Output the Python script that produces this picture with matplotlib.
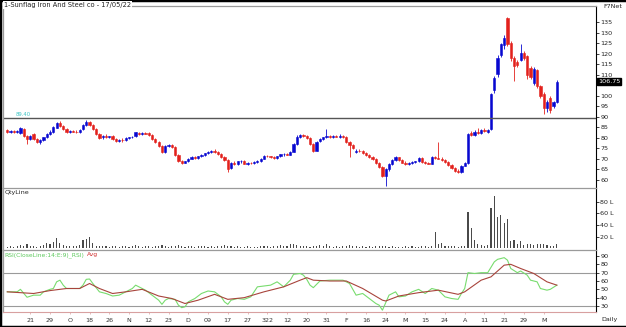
import matplotlib
matplotlib.use("Agg")
import matplotlib.pyplot as plt
from matplotlib.lines import Line2D
import numpy as np

title = "1-Sunflag Iron And Steel co - 17/05/22"

opens = [83.5, 83.0, 83.3, 82.8, 82.5, 84.2, 81.0, 79.5, 82.0, 79.5,
         78.0, 78.8, 80.2, 82.0, 83.0, 84.8, 87.0, 85.5, 84.0, 83.0,
         83.2, 83.0, 82.8, 84.0, 86.0, 87.3, 86.0, 84.0, 82.0, 80.2,
         81.0, 80.5, 80.8, 79.5, 78.6, 79.2, 78.8, 80.0, 80.2, 80.8,
         82.5, 82.0, 82.2, 82.3, 81.3, 79.5, 78.0, 76.0, 73.5, 76.0,
         76.5, 75.5, 72.0, 69.0, 68.3, 68.8, 70.2, 71.0, 70.5, 71.2,
         72.0, 72.7, 73.5, 74.0, 73.3, 72.3, 71.0, 69.5, 65.5, 68.0,
         67.5, 68.8, 69.2, 67.8, 68.2, 67.9, 68.6, 68.8, 70.2, 71.5,
         71.2, 70.8, 70.4, 71.3, 72.2, 72.5, 72.0, 73.5, 77.0, 80.5,
         81.2, 81.0, 80.0, 77.0, 74.0, 78.5, 79.5, 80.2, 80.8, 80.5,
         80.8, 80.6, 81.0, 80.2, 78.0, 76.5, 73.5, 74.0, 73.6, 73.0,
         72.0, 71.0, 70.0, 68.0, 66.0, 62.0, 65.0, 67.7, 69.5, 70.7,
         69.5, 68.3, 67.7, 68.3, 68.6, 68.8, 70.5, 68.4, 68.0, 67.8,
         70.7, 70.5, 70.2, 69.5, 68.5, 67.0, 65.5, 64.5, 63.8, 66.8,
         68.0, 82.5, 81.5, 83.0, 82.5, 83.8, 82.8, 84.0, 102.5, 110.5,
         119.5, 124.0, 137.0, 125.0, 118.0, 116.0, 117.0, 120.5, 119.0, 113.0,
         106.0, 112.0, 104.5, 101.0, 94.0, 99.0, 95.0, 97.0]
highs = [84.0, 83.8, 83.8, 83.6, 85.0, 84.6, 81.5, 81.2, 82.5, 80.0,
         79.5, 80.5, 82.5, 83.5, 85.5, 87.5, 87.8, 86.0, 84.5, 83.8,
         83.6, 83.5, 84.2, 86.5, 88.4, 87.8, 86.4, 84.5, 82.5, 81.5,
         81.8, 81.0, 81.2, 80.0, 79.5, 79.8, 80.3, 80.6, 81.0, 83.0,
         83.0, 82.6, 82.8, 82.8, 81.6, 80.0, 78.5, 76.5, 76.5, 77.0,
         77.0, 76.0, 72.5, 69.5, 69.2, 70.5, 71.3, 71.5, 71.5, 72.2,
         73.0, 73.8, 74.4, 74.5, 73.6, 72.6, 71.5, 70.0, 68.5, 68.8,
         69.2, 69.5, 69.6, 68.6, 68.7, 69.0, 69.3, 70.5, 71.8, 72.0,
         71.6, 71.5, 71.5, 72.5, 73.0, 73.0, 74.0, 77.5, 81.5, 81.8,
         81.6, 81.5, 80.5, 77.5, 78.5, 80.0, 80.5, 84.0, 81.5, 81.2,
         81.5, 82.0, 81.5, 81.0, 78.5, 77.0, 74.5, 74.8, 74.2, 73.5,
         72.5, 71.5, 70.5, 68.5, 66.5, 65.5, 68.2, 70.0, 71.2, 71.0,
         70.0, 68.8, 68.6, 69.0, 69.2, 71.0, 70.8, 68.8, 68.6, 71.2,
         71.5, 77.8, 70.8, 70.0, 69.0, 67.5, 66.0, 65.0, 67.2, 68.5,
         82.5, 83.2, 83.5, 84.5, 84.2, 84.5, 84.2, 101.5, 109.5, 119.5,
         125.0, 129.0, 137.5, 126.0, 119.0, 117.0, 124.5, 121.0, 119.5, 114.0,
         113.5, 112.5, 105.0, 102.0, 98.0, 100.0, 97.5, 107.5]
lows = [82.5, 82.4, 82.5, 82.3, 82.0, 80.5, 77.0, 79.0, 79.0, 77.5,
        77.2, 78.5, 80.0, 81.5, 82.5, 84.5, 85.0, 83.5, 82.5, 82.5,
        82.6, 82.4, 82.5, 83.8, 85.5, 85.5, 83.5, 81.5, 79.5, 79.5,
        80.0, 79.8, 79.0, 78.2, 78.0, 78.2, 78.5, 79.5, 79.8, 80.5,
        81.5, 81.5, 81.6, 81.0, 79.0, 77.5, 75.5, 73.0, 73.0, 75.5,
        75.0, 71.5, 68.5, 67.8, 68.0, 68.5, 69.8, 70.0, 70.2, 70.8,
        71.6, 72.4, 73.0, 73.0, 72.0, 70.5, 69.0, 63.6, 65.0, 67.0,
        67.2, 68.0, 67.5, 67.3, 67.5, 67.6, 68.0, 68.6, 70.0, 70.8,
        70.5, 70.0, 70.2, 71.0, 71.5, 71.8, 71.8, 73.2, 76.5, 80.0,
        80.5, 79.5, 76.5, 73.5, 73.8, 78.2, 79.0, 79.8, 80.0, 80.0,
        80.2, 80.0, 79.8, 77.5, 71.0, 74.5, 73.0, 73.2, 72.5, 71.5,
        70.5, 69.5, 67.5, 65.5, 61.5, 57.3, 64.5, 67.2, 69.0, 69.0,
        68.0, 67.2, 67.3, 67.8, 68.0, 68.5, 68.0, 67.5, 67.4, 67.5,
        70.0, 70.0, 69.2, 68.0, 66.5, 65.0, 64.0, 63.2, 63.5, 66.5,
        67.8, 80.8, 81.0, 82.0, 82.0, 82.8, 82.5, 83.5, 101.5, 109.0,
        118.5, 122.0, 123.5, 116.5, 106.8, 113.5, 116.5, 117.0, 108.0, 108.0,
        105.0, 103.5, 99.0, 91.4, 92.5, 92.0, 94.0, 96.5]
closes = [83.0, 83.3, 82.8, 83.2, 84.5, 81.0, 79.4, 80.8, 79.5, 78.0,
          79.0, 80.2, 82.0, 83.0, 85.0, 87.0, 85.5, 84.0, 83.0, 83.2,
          83.0, 82.8, 83.8, 86.0, 87.3, 86.0, 84.0, 82.0, 80.0, 81.0,
          80.5, 80.8, 79.5, 78.6, 79.2, 78.8, 80.0, 80.2, 80.6, 82.7,
          82.0, 82.2, 82.0, 81.3, 79.5, 78.0, 76.0, 73.5, 76.0, 76.5,
          75.5, 72.0, 69.0, 68.3, 68.8, 70.2, 71.0, 70.5, 71.2, 72.0,
          72.7, 73.5, 74.0, 73.3, 72.3, 71.0, 69.5, 65.3, 68.0, 67.5,
          68.8, 69.2, 67.8, 68.2, 67.9, 68.6, 68.8, 70.2, 71.5, 71.2,
          70.8, 70.4, 71.3, 72.2, 72.5, 72.0, 73.5, 77.0, 80.5, 81.2,
          81.0, 80.0, 77.0, 74.0, 78.0, 79.5, 80.2, 80.8, 80.5, 80.8,
          80.6, 81.0, 80.2, 78.0, 76.5, 75.0, 74.0, 73.6, 73.0, 72.0,
          71.0, 70.0, 68.0, 66.0, 62.0, 65.0, 67.7, 69.5, 70.7, 69.5,
          68.3, 67.7, 68.3, 68.6, 68.8, 70.5, 68.4, 68.0, 67.8, 70.7,
          70.5, 70.2, 69.5, 68.5, 67.0, 65.5, 64.5, 63.8, 66.8, 68.0,
          81.8, 81.5, 83.0, 82.5, 83.8, 83.2, 83.8, 100.7, 108.6, 118.0,
          124.4, 127.6, 124.4, 118.0, 114.2, 114.5, 120.5, 118.0, 110.0, 109.0,
          112.6, 104.7, 100.0, 94.4, 97.0, 93.4, 97.0, 106.75]

# volume in lakh
volume = [3, 4, 3, 5, 6, 4, 7, 5, 4, 3, 5,
          6, 9, 8, 11, 18, 9, 6,
          5, 4, 5, 4, 6,
          14, 17, 19, 9, 5,
          4, 5, 4, 3, 4, 5, 3, 4, 4, 3, 5, 6, 4, 3, 4,
          4, 3, 5, 4, 6, 5, 3, 4, 5, 6, 4, 3, 4, 5, 3, 4, 4, 5,
          3, 4, 3, 4, 5, 6, 5, 4, 3, 4, 3, 3, 4, 3, 2, 3, 4, 5, 4, 3,
          4, 5, 6, 4, 5, 7, 8, 6,
          4, 5, 4, 3, 5, 4, 6, 5, 7, 4, 3, 4, 3, 4, 4, 6, 5, 4, 3, 4,
          3, 4, 3, 4, 5, 5, 4, 3, 4, 3, 2, 3, 4, 3, 4, 3, 3, 4, 5, 3,
          4, 28, 7, 10, 5, 4, 5, 4, 3, 5, 4,
          63, 35, 14, 8, 6, 5, 6, 69, 90, 54, 58, 44, 50, 13, 14, 8, 12,
          6, 7, 8, 6, 7, 7, 8, 6, 5, 5, 7]

rsi_idx = [0, 3, 4, 6, 8, 10, 11, 13, 14, 15, 16, 17, 18, 22, 23, 24, 25, 26, 28, 30,
           32, 34, 36, 38, 39, 40, 42, 44, 46, 47, 48, 49, 51, 52, 53, 54, 55, 57, 59, 61,
           63, 65, 66, 67, 68, 70, 72, 74, 76, 78, 80, 82, 84, 86, 87, 89, 90, 91, 92, 93,
           95, 98, 102, 104, 106, 108, 110, 112, 113, 114, 115, 116, 118, 119, 121, 123, 125, 127, 129, 131,
           133, 135, 137, 138, 139, 140, 142, 144, 146, 148, 149, 151, 152, 153, 155, 156, 158, 159, 161, 162,
           164, 165, 167]
rsi_val = [47, 47, 50, 40.5, 43, 43, 47, 50, 51, 59, 61, 55, 51, 51, 55, 62, 62.4, 57, 47, 45,
           42, 43, 47, 51, 55, 53, 49, 43, 37, 32, 37, 39, 38, 31, 28, 29, 35, 39, 45, 48,
           47, 41, 35, 32, 37, 39, 38, 41, 53, 54, 55, 59, 53, 61, 68, 69, 67, 62, 55, 52,
           60, 61, 61, 57, 43, 45, 39, 33, 31, 25, 34, 43, 47, 41, 42, 47, 50, 45, 51, 49,
           41, 39, 38, 45, 51, 70, 69, 70, 70, 83, 86, 88, 85, 75, 70, 72, 67, 61, 59, 51,
           49, 50, 55]
avg_idx = [0, 8, 13, 18, 22, 25, 28, 32, 36, 41, 46, 50, 54, 58, 63, 67, 72, 78, 84, 89,
           91, 93, 98, 103, 108, 114, 115, 119, 125, 131, 137, 139, 144, 147, 151, 153, 156, 160, 164, 167]
avg_val = [47, 45, 48.5, 51, 51, 57, 51, 45, 47, 50, 42, 39, 33, 37, 44, 38, 40, 47, 53, 61,
           64, 61, 60, 60, 51, 37, 36, 42, 46, 49, 44, 47, 61, 65, 79, 80, 75, 69, 59, 55]

date_labels = ["21", "29", "O", "18", "26", "N", "12", "23", "D", "09", "17", "27", "322",
               "12", "20", "31", "F", "16", "24", "M", "15", "24", "A", "11", "21", "29", "M"]
date_pos = list(range(7, 7 + 6 * len(date_labels), 6))

price_ticks = list(range(60, 140, 5))
vol_ticks = [20, 40, 60, 80]
rsi_ticks = [30, 40, 50, 60, 70, 80, 90]
support = 89.2
last_price = "106.75"

o = np.array(opens); h = np.array(highs); l = np.array(lows); c = np.array(closes)
x = np.arange(len(c))
assert len(o) == len(h) == len(l) == len(c) == len(volume) == 168

BLUE = "#0808d0"
RED = "#e3211c"
GRID = "#9a9a9a"
FS = 4.6
plt.rcParams["font.family"] = ["DejaVu Sans"]

W, H = 626, 327
fig = plt.figure(figsize=(W / 100, H / 100), dpi=100)


def fax(x0, y0, x1, y1):
    return fig.add_axes([x0 / W, 1 - y1 / H, (x1 - x0) / W, (y1 - y0) / H])


xl = (-1.3, 178.9)
ax_p = fax(3, 6, 596, 188)
ax_v = fax(3, 188, 596, 250)
ax_r = fax(3, 250, 596, 312)

for ax in (ax_p, ax_v, ax_r):
    ax.set_xlim(*xl)
    ax.set_facecolor("white")
    ax.spines["top"].set_color(GRID)
    ax.spines["left"].set_color(GRID)
    ax.spines["bottom"].set_visible(False)
    ax.spines["right"].set_color("black")
    ax.spines["right"].set_linewidth(0.8)
    for s in ("top", "left"):
        ax.spines[s].set_linewidth(0.9)
    ax.yaxis.tick_right()
    ax.tick_params(axis="y", which="both", direction="out", length=2, width=0.6,
                   labelsize=FS, pad=1, colors="#222222")
    ax.tick_params(axis="x", bottom=False, labelbottom=False)

# price candles
up = c >= o
col = np.where(up, BLUE, RED)
ax_p.vlines(x, l, h, colors=col, lw=0.6)
ax_p.bar(x, np.abs(c - o), bottom=np.minimum(o, c), width=0.68, color=col,
         edgecolor=col, linewidth=0.4)
ax_p.axhline(support, color="#555555", lw=1.0)
ax_p.text(2.5, support + 0.8, "89.40", color="#3cc4c4", fontsize=FS - 0.8, va="bottom")
ax_p.set_ylim(56.2, 142.6)
ax_p.set_yticks(price_ticks)
ax_p.set_yticklabels([str(t) if t != 105 else "" for t in price_ticks])
ax_p.text(1.003, (106.75 - 56.2) / (142.6 - 56.2), last_price, transform=ax_p.transAxes,
          fontsize=FS, color="white", va="center", ha="left",
          bbox=dict(boxstyle="square,pad=0.15", fc="black", ec="black"))

# volume
ax_v.bar(x, volume, width=0.34, color="#4a4a4a")
ax_v.set_ylim(-2.6, 103.4)
ax_v.set_yticks(vol_ticks)
ax_v.set_yticklabels([f"{t} L" for t in vol_ticks])
ax_v.text(0.002, 0.96, "QtyLine", transform=ax_v.transAxes, fontsize=FS, va="top", color="#222222")

# rsi
ax_r.axhline(70, color=GRID, lw=0.8)
ax_r.axhline(30, color=GRID, lw=0.8)
ax_r.plot(rsi_idx, rsi_val, color="#78dc6e", lw=0.8)
ax_r.plot(avg_idx, avg_val, color="#a8443c", lw=0.8)
ax_r.set_ylim(22.8, 97.2)
ax_r.set_yticks(rsi_ticks)
ax_r.spines["bottom"].set_visible(True)
ax_r.spines["bottom"].set_color("#d8a0a0")
ax_r.spines["bottom"].set_linewidth(0.8)
ax_r.tick_params(axis="x", bottom=True, labelbottom=True, length=1.5, width=0.5,
                 colors="#d8a0a0", labelcolor="#333333", labelsize=FS, pad=3)
ax_r.set_xticks(date_pos)
ax_r.set_xticklabels(date_labels)
rsi_lbl = ax_r.text(0.002, 0.97, "RSI(CloseLine:14:E:9)_RSI)", transform=ax_r.transAxes,
                    fontsize=FS - 0.3, va="top", color="#5cc85c")
ax_r.annotate("Avg", xy=(1, 1), xycoords=rsi_lbl, xytext=(2, 0), textcoords="offset points",
              fontsize=FS - 0.3, va="top", ha="left", color="#d03030")

# header / footer texts
fig.text(4 / W, 1 - 5 / H, title, fontsize=FS + 0.2, va="center", ha="left", color="#222222",
         bbox=dict(boxstyle="square,pad=0.1", fc="white", ec="none"))
fig.text(622 / W, 1 - 6 / H, "F7Net", fontsize=FS, va="center", ha="right", color="#222222")
fig.text(618 / W, 1 - 320 / H, "Daily", fontsize=FS, va="center", ha="right", color="#222222")

# outer frame
for xs, ys in (([0, 1], [1, 1]), ([0, 0], [0, 1]), ([0, 1], [0, 0])):
    fig.add_artist(Line2D(xs, ys, transform=fig.transFigure, color="black", lw=2.5))

fig.savefig("out.png", dpi=100)
